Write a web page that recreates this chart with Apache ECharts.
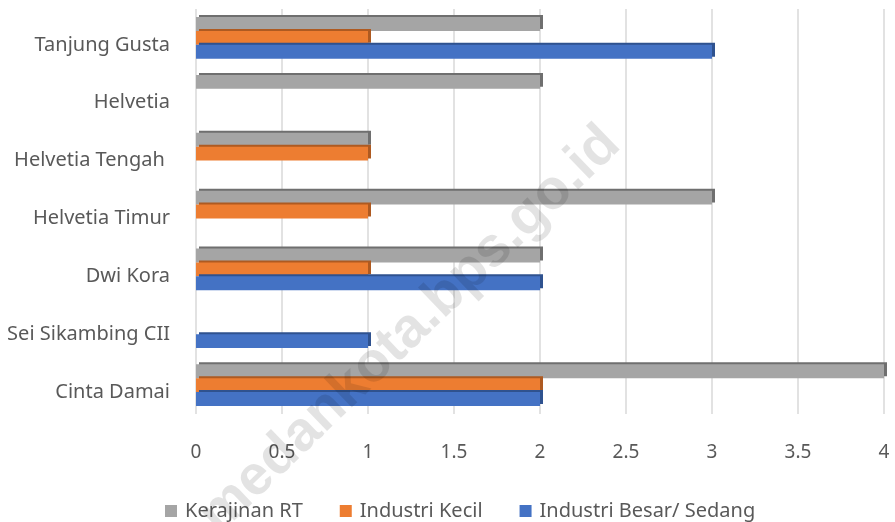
<!DOCTYPE html>
<html>
<head>
<meta charset="utf-8">
<script src="https://cdn.jsdelivr.net/npm/echarts@6/dist/echarts.min.js"></script>
<style>
  html, body { margin: 0; padding: 0; background: #fff; }
  #main { width: 895px; height: 522px; }
</style>
</head>
<body>
<div id="main"></div>
<script>
// data, bottom to top
const categories = ['Cinta Damai', 'Sei Sikambing CII', 'Dwi Kora', 'Helvetia Timur', 'Helvetia Tengah ', 'Helvetia', 'Tanjung Gusta']
const kerajinanRT = [4, 0, 2, 3, 1, 2, 2]
const industriKecil = [2, 0, 1, 1, 1, 0, 1]
const industriBesar = [2, 1, 2, 0, 0, 0, 3]
const legendNames = ['Kerajinan RT', 'Industri Kecil', 'Industri Besar/ Sedang']

const font = '"Noto Sans", sans-serif'
const textColor = '#595959'

function bar (name, values, color, edge) {
  return {
    name: name,
    type: 'bar',
    data: values,
    barCategoryGap: '28%',
    barGap: '0%',
    itemStyle: {
      color: color,
      shadowColor: edge,
      shadowBlur: 0,
      shadowOffsetX: 3,
      shadowOffsetY: -2
    }
  }
}

let myChart = echarts.init(document.getElementById('main'))
myChart.setOption({
  animation: false,
  grid: { left: 196, right: 11, top: 9, bottom: 108 },
  legend: {
    data: legendNames,
    bottom: 1,
    left: 165,
    padding: 0,
    itemWidth: 12,
    itemHeight: 12,
    itemGap: 37,
    icon: 'rect',
    textStyle: { color: textColor, fontSize: 20, fontFamily: font, padding: [0, 0, 0, 3] }
  },
  xAxis: {
    type: 'value',
    min: 0,
    max: 4,
    interval: 0.5,
    axisLine: { show: false },
    axisTick: { show: false },
    splitLine: { lineStyle: { color: '#d9d9d9', width: 1.5 } },
    axisLabel: { color: textColor, fontSize: 19, fontFamily: font, margin: 29 }
  },
  yAxis: {
    type: 'category',
    data: categories,
    axisLine: { show: false },
    axisTick: { show: false },
    axisLabel: {
      margin: 26,
      // empty spacer line pushes the name a few px below the band centre
      formatter: v => '{s|}\n{t|' + v + '}',
      rich: {
        s: { lineHeight: 14, fontSize: 10 },
        t: { color: textColor, fontSize: 20, fontFamily: font, lineHeight: 27, align: 'right' }
      }
    }
  },
  series: [
    bar(legendNames[0], kerajinanRT, '#a5a5a5', '#6f6f6f'),
    bar(legendNames[1], industriKecil, '#ed7d31', '#ae5a21'),
    bar(legendNames[2], industriBesar, '#4472c4', '#2f528f')
  ],
  graphic: [{
    type: 'text',
    x: 410,
    y: 330,
    rotation: Math.PI / 4.1,
    z: 100,
    style: {
      text: 'medankota.bps.go.id',
      fontSize: 56,
      fontWeight: 'bold',
      fontFamily: 'Arial, "Liberation Sans", sans-serif',
      fill: 'rgba(0,0,0,0.11)',
      align: 'center',
      verticalAlign: 'middle'
    }
  }]
})
</script>
</body>
</html>
